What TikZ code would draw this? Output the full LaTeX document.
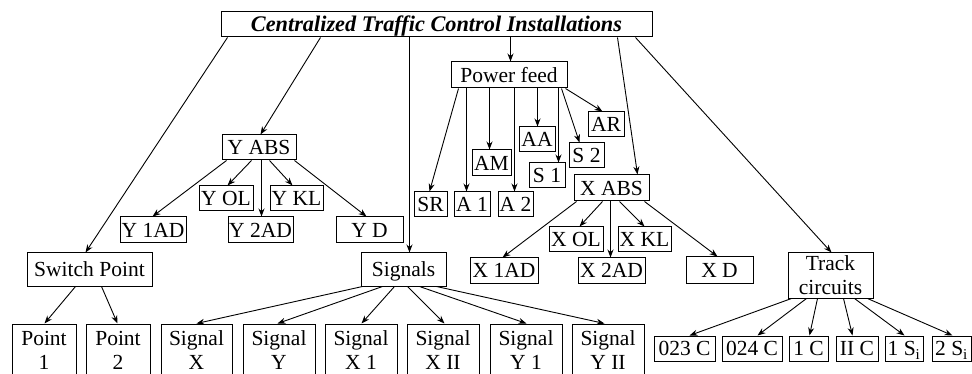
\documentclass[tikz,border=0pt]{standalone}
\usepackage{fontspec}
\setmainfont{Liberation Serif}
\usetikzlibrary{arrows.meta}
\begin{document}
\begin{tikzpicture}[x=1pt,y=-1pt,
  font=\fontsize{21.5}{24}\selectfont,
  bx/.style={draw,line width=1pt,inner sep=0pt,text height=14.8pt,text depth=0pt},
  mbx/.style={draw,line width=1pt,inner sep=0pt,align=center},
  arr/.style={line width=0.9pt,-{Stealth[length=8pt,width=6pt]}}]
\useasboundingbox (0,0) rectangle (972,374);

% root and first level
\node[bx,minimum width=431,minimum height=25,font=\fontsize{22.3}{24}\selectfont\bfseries\itshape] (top) at (436.5,24.5) {Centralized Traffic Control Installations};
\node[bx,minimum width=116,minimum height=26] (pf) at (509,75) {Power feed};
\node[bx,minimum width=125,minimum height=33] (sw) at (89.5,269.5) {Switch Point};
\node[bx,minimum width=85,minimum height=33] (sig) at (403.5,269.5) {Signals};
\node[bx,minimum width=74,minimum height=25] (yabs) at (259,147.5) {Y ABS};
\node[bx,minimum width=75,minimum height=26] (xabs) at (611.5,188) {X ABS};
\node[mbx,minimum width=85,minimum height=45] (tc) at (830.5,275.5) {Track\\circuits};

% power feed branches
\node[bx,minimum width=33,minimum height=25] (sr) at (430.5,204.5) {SR};
\node[bx,minimum width=36,minimum height=25] (a1) at (472,204.5) {A 1};
\node[bx,minimum width=39,minimum height=26] (am) at (491.5,163) {AM};
\node[bx,minimum width=35,minimum height=25] (a2) at (515.5,204.5) {A 2};
\node[bx,minimum width=36,minimum height=25] (aa) at (537,139.5) {AA};
\node[bx,minimum width=36,minimum height=25] (s1) at (547,175.5) {S 1};
\node[bx,minimum width=35,minimum height=25] (s2) at (586.5,155.5) {S 2};
\node[bx,minimum width=36,minimum height=25] (ar) at (606,124.5) {AR};

% X ABS branches
\node[bx,minimum width=68,minimum height=25] (x1ad) at (504,270.5) {X 1AD};
\node[bx,minimum width=54,minimum height=25] (xol) at (576,239.5) {X OL};
\node[bx,minimum width=67,minimum height=25] (x2ad) at (611.5,270.5) {X 2AD};
\node[bx,minimum width=53,minimum height=25] (xkl) at (644.5,239.5) {X KL};
\node[bx,minimum width=67,minimum height=26] (xd) at (719.5,270) {X D};

% Y ABS branches
\node[bx,minimum width=66,minimum height=26] (y1ad) at (153,230) {Y 1AD};
\node[bx,minimum width=54,minimum height=25] (yol) at (226,198.5) {Y OL};
\node[bx,minimum width=65,minimum height=26] (y2ad) at (260.5,230) {Y 2AD};
\node[bx,minimum width=53,minimum height=25] (ykl) at (296.5,198.5) {Y KL};
\node[bx,minimum width=67,minimum height=26] (yd) at (369.5,230) {Y D};

% switch points
\node[mbx,minimum width=64,minimum height=53] (p1) at (44,350.5) {Point\\1};
\node[mbx,minimum width=64,minimum height=53] (p2) at (118,350.5) {Point\\2};

% signals
\node[mbx,minimum width=71,minimum height=53] (sx) at (196.5,350.5) {Signal\\X};
\node[mbx,minimum width=72,minimum height=53] (sy) at (279,350.5) {Signal\\Y};
\node[mbx,minimum width=72,minimum height=53] (sx1) at (361,350.5) {Signal\\X 1};
\node[mbx,minimum width=72,minimum height=53] (sx2) at (443,350.5) {Signal\\X II};
\node[mbx,minimum width=72,minimum height=53] (sy1) at (526,350.5) {Signal\\Y 1};
\node[mbx,minimum width=72,minimum height=53] (sy2) at (608,350.5) {Signal\\Y II};

% track circuits
\node[bx,minimum width=61,minimum height=25] (c023) at (684.5,348.5) {023 C};
\node[bx,minimum width=60,minimum height=25] (c024) at (752,348.5) {024 C};
\node[bx,minimum width=39,minimum height=25] (c1) at (808.5,348.5) {1 C};
\node[bx,minimum width=42,minimum height=25] (c2) at (857,348.5) {II C};
\node[bx,minimum width=38,minimum height=25] (si1) at (904,348.5) {1 S\textsubscript{i}};
\node[bx,minimum width=39,minimum height=25] (si2) at (951.5,348.5) {2 S\textsubscript{i}};

% connectors from the root
\draw[arr] ([xshift=7pt]top.south west) -- ([xshift=59pt]sw.north west);
\draw[arr] ([xshift=100pt]top.south west) -- ([xshift=39pt]yabs.north west);
\draw[arr] ([xshift=189pt]top.south west) -- ([xshift=49pt]sig.north west);
\draw[arr] ([xshift=290pt]top.south west) -- ([xshift=60pt]pf.north west);
\draw[arr] ([xshift=397pt]top.south west) -- ([xshift=64pt]xabs.north west);
\draw[arr] ([xshift=415pt]top.south west) -- ([xshift=44pt]tc.north west);

% power feed
\draw[arr] ([xshift=8pt]pf.south west) -- ([xshift=16pt]sr.north west);
\draw[arr] ([xshift=16pt]pf.south west) -- ([xshift=13pt]a1.north west);
\draw[arr] ([xshift=39pt]pf.south west) -- ([xshift=18pt]am.north west);
\draw[arr] ([xshift=64pt]pf.south west) -- ([xshift=17pt]a2.north west);
\draw[arr] ([xshift=87pt]pf.south west) -- ([xshift=19pt]aa.north west);
\draw[arr] ([xshift=108pt]pf.south west) -- ([xshift=30pt]s1.north west);
\draw[arr] ([xshift=111pt]pf.south west) -- ([xshift=11pt]s2.north west);
\draw[arr] ([xshift=115pt]pf.south west) -- ([xshift=15pt]ar.north west);

% X ABS
\draw[arr] ([xshift=3pt]xabs.south west) -- ([xshift=33pt]x1ad.north west);
\draw[arr] ([xshift=29pt]xabs.south west) -- ([xshift=31pt]xol.north west);
\draw[arr] ([xshift=37pt]xabs.south west) -- ([xshift=33pt]x2ad.north west);
\draw[arr] ([xshift=46pt]xabs.south west) -- ([xshift=27pt]xkl.north west);
\draw[arr] ([xshift=71pt]xabs.south west) -- ([xshift=32pt]xd.north west);

% Y ABS
\draw[arr] ([xshift=5pt]yabs.south west) -- ([xshift=33pt]y1ad.north west);
\draw[arr] ([xshift=30pt]yabs.south west) -- ([xshift=29pt]yol.north west);
\draw[arr] ([xshift=40pt]yabs.south west) -- ([xshift=34pt]y2ad.north west);
\draw[arr] ([xshift=48pt]yabs.south west) -- ([xshift=23pt]ykl.north west);
\draw[arr] ([xshift=73pt]yabs.south west) -- ([xshift=31pt]yd.north west);

% switch point
\draw[arr] ([xshift=49pt]sw.south west) -- ([xshift=33pt]p1.north west);
\draw[arr] ([xshift=75pt]sw.south west) -- ([xshift=32pt]p2.north west);

% signals
\draw[arr] ([xshift=2pt]sig.south west) -- ([xshift=36pt]sx.north west);
\draw[arr] ([xshift=22pt]sig.south west) -- ([xshift=35pt]sy.north west);
\draw[arr] ([xshift=34pt]sig.south west) -- ([xshift=37pt]sx1.north west);
\draw[arr] ([xshift=47pt]sig.south west) -- ([xshift=38pt]sx2.north west);
\draw[arr] ([xshift=59pt]sig.south west) -- ([xshift=37pt]sy1.north west);
\draw[arr] ([xshift=76pt]sig.south west) -- ([xshift=33pt]sy2.north west);

% track circuits
\draw[arr] ([xshift=4pt]tc.south west) -- ([xshift=36pt]c023.north west);
\draw[arr] ([xshift=19pt]tc.south west) -- ([xshift=36pt]c024.north west);
\draw[arr] ([xshift=30pt]tc.south west) -- ([xshift=21pt]c1.north west);
\draw[arr] ([xshift=56pt]tc.south west) -- ([xshift=17pt]c2.north west);
\draw[arr] ([xshift=67pt]tc.south west) -- ([xshift=20pt]si1.north west);
\draw[arr] ([xshift=80pt]tc.south west) -- ([xshift=21pt]si2.north west);
\end{tikzpicture}
\end{document}
